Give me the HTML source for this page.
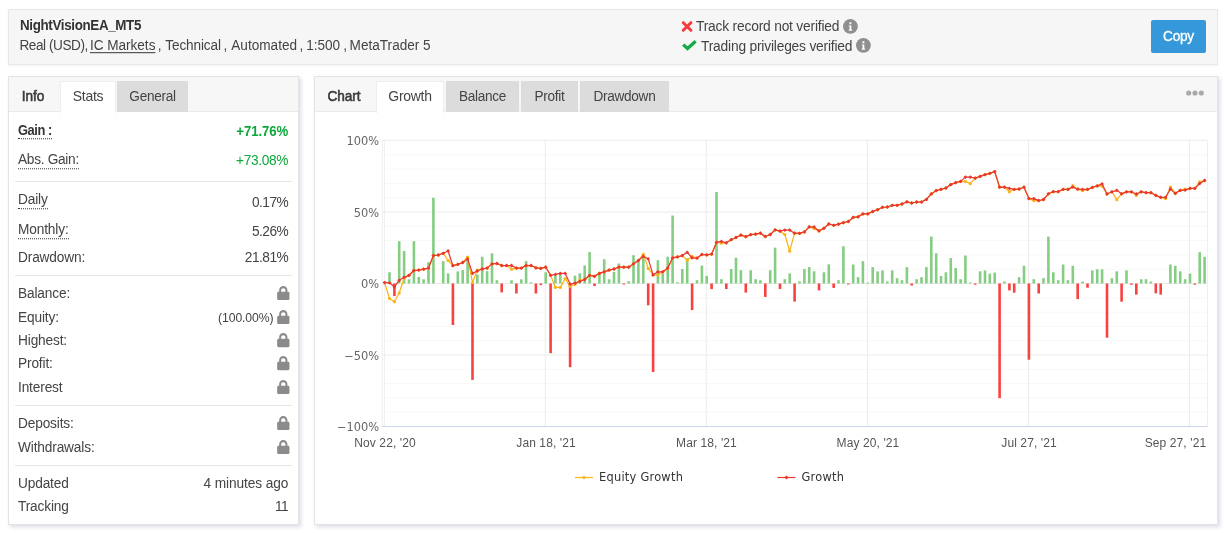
<!DOCTYPE html>
<html lang="en"><head><meta charset="utf-8"><title>NightVisionEA_MT5</title>
<style>
*{box-sizing:border-box}
html,body{margin:0;padding:0;background:#fff}
body{will-change:transform;width:1226px;height:533px;position:relative;overflow:hidden;font-family:"Liberation Sans",Arial,sans-serif;font-size:14px;color:#444}
.abs{position:absolute}
.hdr{position:absolute;left:8px;top:9px;width:1210px;height:56px;background:#f6f6f6;border:1px solid #e8e8e8;box-shadow:0 1px 3px rgba(0,0,0,.05)}
.title{transform:scaleY(1.09);transform-origin:0 78%;position:absolute;left:20px;top:17.5px;font-weight:bold;font-size:13.4px;color:#333;line-height:16px;white-space:nowrap;letter-spacing:-0.35px}
.sub span{position:absolute;top:0;transform:scaleY(1.08);transform-origin:0 78%}
.sub{position:absolute;left:0;top:37.5px;font-size:13.6px;color:#444;line-height:16px;white-space:nowrap;letter-spacing:-0.21px}
.sub u{text-decoration:underline;text-underline-offset:2px}
.ver{transform:scaleY(1.06);transform-origin:0 78%;position:absolute;font-size:13.8px;line-height:16px;color:#444;white-space:nowrap;letter-spacing:-0.2px}
.info{position:absolute}
.btn b{font-weight:normal;display:inline-block;transform:scaleY(1.08);transform-origin:0 64%}
.btn{position:absolute;left:1151px;top:20px;width:55px;height:33px;background:#3498db;color:#fff;border-radius:2px;font-size:13.7px;line-height:33px;text-align:center;letter-spacing:-0.3px;-webkit-text-stroke:0.3px #fff}
.panel{position:absolute;background:#fff;border:1px solid #e4e4e4;box-shadow:1.5px 2px 4px rgba(110,110,160,.24)}
.tabs{position:absolute;left:0;top:0;right:0;height:35px;background:#f7f7f7;border-bottom:1px solid #eaeaea}
.tab{position:absolute;top:4px;height:31px;line-height:30px;font-size:13.6px;color:#444;text-align:center;letter-spacing:-0.3px;white-space:nowrap}
.tab.h{font-weight:normal;color:#3a3a3a;-webkit-text-stroke:0.55px #3a3a3a;line-height:32px;letter-spacing:-0.05px}
.tab b{font-weight:inherit;display:inline-block;transform:scaleY(1.08);transform-origin:0 64%}
.tab.a{line-height:29px;font-size:14px;background:#fff;border:1px solid #eeeeee;border-bottom:none;height:32px}
.tab.i{background:#dcdcdc;line-height:32px}
.row{position:absolute;left:10px;right:9px;height:20px;line-height:20px;font-size:13.7px;letter-spacing:-0.15px;white-space:nowrap}
.lbl{position:absolute;left:0;top:0;color:#444;transform:scaleY(1.07);transform-origin:0 73%}
.lbl.dot{border-bottom:1px dotted #333;line-height:17px;height:18px}
.val{position:absolute;right:1.8px;top:0;color:#444;letter-spacing:-0.5px;transform:scaleY(1.07);transform-origin:0 73%}
.val.ns{letter-spacing:-0.1px}
.val.dv{top:1.5px}
.val.lk{top:0;right:-0.2px;transform:none}
.b{font-weight:bold;color:#333;font-size:13.2px}
.lbl.b{font-size:12.9px;letter-spacing:-0.45px}
.lbl.b.dot{height:17px}
.g{color:#0da83a !important}
.ag{letter-spacing:-0.3px}
.sm{display:inline-block;transform:scaleY(1.07);transform-origin:0 73%;font-size:12.2px;margin-right:2.2px;letter-spacing:-0.1px;position:relative;top:0.3px}
.lock{vertical-align:-2.7px}
.sep{position:absolute;left:7px;right:7px;height:1px;background:#e6e6e6}
.chart{position:absolute;left:0;top:0}
.ax{font-size:12px;fill:#555;letter-spacing:0.1px;font-family:"Liberation Sans",Arial,sans-serif}
.yl{letter-spacing:0;font-size:11.4px;fill:#666;font-family:"DejaVu Sans","Liberation Sans",sans-serif}
.lg{font-size:11.4px;fill:#333;letter-spacing:0.25px;font-family:"DejaVu Sans","Liberation Sans",sans-serif}
.dots{position:absolute;left:1186px;top:89.8px}
</style></head><body>
<div class="hdr"></div>
<div class="title">NightVisionEA_MT5</div>
<div class="sub"><span style="left:19.5px;letter-spacing:-0.45px">Real (USD),</span><span style="left:89.9px;letter-spacing:-0.02px"><u>IC Markets</u></span><span style="left:157.8px;letter-spacing:0px">,</span><span style="left:165.3px;letter-spacing:-0.12px">Technical</span><span style="left:223.6px;letter-spacing:0px">,</span><span style="left:231.3px;letter-spacing:0px">Automated</span><span style="left:299.6px;letter-spacing:0px">,</span><span style="left:306.3px;letter-spacing:-0.05px">1:500</span><span style="left:343.2px;letter-spacing:0px">,</span><span style="left:349.6px;letter-spacing:0px">MetaTrader 5</span></div>
<svg class="abs" style="left:681px;top:20px" width="12" height="13" viewBox="0 0 12 13"><path d="M2.300 2.700L9.900 10.300M9.900 2.700L2.300 10.300" stroke="#f53d3d" stroke-width="3" stroke-linecap="round"/></svg>
<div class="ver" style="left:696px;top:19.300px">Track record not verified</div>
<div class="abs" style="left:843.400px;top:19px"><svg  viewBox="0 0 14 14" width="14.800" height="14.800"><circle cx="7" cy="7" r="7" fill="#8f8f8f"/><path d="M6.100 3.100h1.800v1.800H6.100zM5.500 6.100h2.400v3.900h.7v1H5.400v-1h.8V7.100h-.7z" fill="#fff"/></svg></div>
<svg class="abs" style="left:681px;top:39px" width="16" height="14" viewBox="0 0 16 14"><path d="M2.200 5.600L6.500 9.500L14.600 2.200" fill="none" stroke="#12ab48" stroke-width="3.200"/></svg>
<div class="ver" style="left:701px;top:38.800px">Trading privileges verified</div>
<div class="abs" style="left:856.200px;top:38px"><svg  viewBox="0 0 14 14" width="14.800" height="14.800"><circle cx="7" cy="7" r="7" fill="#8f8f8f"/><path d="M6.100 3.100h1.800v1.800H6.100zM5.500 6.100h2.400v3.900h.7v1H5.400v-1h.8V7.100h-.7z" fill="#fff"/></svg></div>
<div class="btn"><b>Copy</b></div>

<div class="panel" style="left:8px;top:76px;width:291px;height:449px">
 <div class="tabs">
  <div class="tab h" style="left:5px;width:38px"><b>Info</b></div>
  <div class="tab a" style="left:51px;width:56px"><b>Stats</b></div>
  <div class="tab i" style="left:108px;width:71px"><b>General</b></div>
 </div>
</div>
<div class="abs" style="left:8px;top:0;width:291px;height:533px">
<div class="row" style="top:121.7px"><span class="lbl dot b">Gain :</span><span class="val g b" style="top:0.2px;letter-spacing:-0.08px">+71.76%</span></div>
<div class="row" style="top:150.6px"><span class="lbl dot ag">Abs. Gain:</span><span class="val g" style="top:0.7px;letter-spacing:-0.32px">+73.08%</span></div>
<div class="row" style="top:191px"><span class="lbl dot ">Daily</span><span class="val " style="top:1.7px;">0.17%</span></div>
<div class="row" style="top:220.5px"><span class="lbl dot ">Monthly:</span><span class="val " style="top:1.2px;">5.26%</span></div>
<div class="row" style="top:247.5px"><span class="lbl  ">Drawdown:</span><span class="val " style="top:0px;">21.81%</span></div>
<div class="row" style="top:283.6px"><span class="lbl">Balance:</span><span class="val lk"><svg class="lock" viewBox="0 0 13 14" width="14.6" height="15.7"><path fill-rule="evenodd" d="M2.800 6V4.700C2.800 2.600 4.400 1 6.500 1s3.700 1.600 3.700 3.700V6h.500c.700 0 1.300.600 1.300 1.300v4.900c0 .700-.600 1.300-1.300 1.300H2.300c-.700 0-1.300-.600-1.300-1.300V7.300C1 6.600 1.600 6 2.300 6zM4.600 6h3.800V4.700c0-1.100-.800-1.900-1.900-1.900s-1.900.800-1.900 1.900z" fill="#8b8b8b"/></svg></span></div>
<div class="row" style="top:307.8px"><span class="lbl">Equity:</span><span class="val lk"><span class="sm">(100.00%)</span><svg class="lock" viewBox="0 0 13 14" width="14.6" height="15.7"><path fill-rule="evenodd" d="M2.800 6V4.700C2.800 2.600 4.400 1 6.500 1s3.700 1.600 3.700 3.700V6h.500c.700 0 1.300.600 1.300 1.300v4.900c0 .700-.600 1.300-1.300 1.300H2.300c-.700 0-1.300-.600-1.300-1.300V7.300C1 6.600 1.600 6 2.300 6zM4.600 6h3.800V4.700c0-1.100-.800-1.900-1.900-1.900s-1.900.800-1.900 1.900z" fill="#8b8b8b"/></svg></span></div>
<div class="row" style="top:331.2px"><span class="lbl">Highest:</span><span class="val lk"><svg class="lock" viewBox="0 0 13 14" width="14.6" height="15.7"><path fill-rule="evenodd" d="M2.800 6V4.700C2.800 2.600 4.400 1 6.500 1s3.700 1.600 3.700 3.700V6h.500c.700 0 1.300.600 1.300 1.300v4.900c0 .700-.600 1.300-1.300 1.300H2.300c-.700 0-1.300-.600-1.300-1.300V7.300C1 6.600 1.600 6 2.300 6zM4.600 6h3.800V4.700c0-1.100-.800-1.900-1.900-1.900s-1.900.800-1.900 1.900z" fill="#8b8b8b"/></svg></span></div>
<div class="row" style="top:354.4px"><span class="lbl">Profit:</span><span class="val lk"><svg class="lock" viewBox="0 0 13 14" width="14.6" height="15.7"><path fill-rule="evenodd" d="M2.800 6V4.700C2.800 2.600 4.400 1 6.500 1s3.700 1.600 3.700 3.700V6h.500c.700 0 1.300.600 1.300 1.300v4.900c0 .700-.600 1.300-1.300 1.300H2.300c-.700 0-1.300-.600-1.300-1.300V7.300C1 6.600 1.600 6 2.300 6zM4.600 6h3.800V4.700c0-1.100-.800-1.900-1.900-1.900s-1.900.800-1.900 1.900z" fill="#8b8b8b"/></svg></span></div>
<div class="row" style="top:377.7px"><span class="lbl">Interest</span><span class="val lk"><svg class="lock" viewBox="0 0 13 14" width="14.6" height="15.7"><path fill-rule="evenodd" d="M2.800 6V4.700C2.800 2.600 4.400 1 6.500 1s3.700 1.600 3.700 3.700V6h.500c.700 0 1.300.600 1.300 1.300v4.900c0 .700-.600 1.300-1.300 1.300H2.300c-.700 0-1.300-.600-1.300-1.300V7.300C1 6.600 1.600 6 2.300 6zM4.600 6h3.800V4.700c0-1.100-.800-1.900-1.900-1.900s-1.900.800-1.900 1.900z" fill="#8b8b8b"/></svg></span></div>
<div class="row" style="top:413.5px"><span class="lbl">Deposits:</span><span class="val lk"><svg class="lock" viewBox="0 0 13 14" width="14.6" height="15.7"><path fill-rule="evenodd" d="M2.800 6V4.700C2.800 2.600 4.400 1 6.500 1s3.700 1.600 3.700 3.700V6h.500c.700 0 1.300.600 1.300 1.300v4.900c0 .700-.600 1.300-1.300 1.300H2.300c-.700 0-1.300-.600-1.300-1.300V7.300C1 6.600 1.600 6 2.300 6zM4.600 6h3.800V4.700c0-1.100-.800-1.900-1.900-1.900s-1.900.800-1.900 1.900z" fill="#8b8b8b"/></svg></span></div>
<div class="row" style="top:437.5px"><span class="lbl">Withdrawals:</span><span class="val lk"><svg class="lock" viewBox="0 0 13 14" width="14.6" height="15.7"><path fill-rule="evenodd" d="M2.800 6V4.700C2.800 2.600 4.400 1 6.500 1s3.700 1.600 3.700 3.700V6h.500c.700 0 1.300.600 1.300 1.300v4.900c0 .700-.600 1.300-1.300 1.300H2.300c-.700 0-1.300-.600-1.300-1.300V7.300C1 6.600 1.600 6 2.300 6zM4.600 6h3.800V4.700c0-1.100-.800-1.900-1.900-1.900s-1.900.800-1.900 1.900z" fill="#8b8b8b"/></svg></span></div>
<div class="row" style="top:473.8px"><span class="lbl  ">Updated</span><span class="val " style="top:0px;letter-spacing:-0.1px">4 minutes ago</span></div>
<div class="row" style="top:496.8px"><span class="lbl  ">Tracking</span><span class="val " style="top:0px;">11</span></div>
<div class="sep" style="top:181px"></div>
<div class="sep" style="top:275px"></div>
<div class="sep" style="top:405px"></div>
<div class="sep" style="top:465px"></div>
</div>

<div class="panel" style="left:314px;top:76px;width:904px;height:449px">
 <div class="tabs">
  <div class="tab h" style="left:5px;width:48px"><b>Chart</b></div>
  <div class="tab a" style="left:61px;width:68px"><b>Growth</b></div>
  <div class="tab i" style="left:131px;width:73px"><b>Balance</b></div>
  <div class="tab i" style="left:206px;width:57px"><b>Profit</b></div>
  <div class="tab i" style="left:265px;width:89px"><b>Drawdown</b></div>
 </div>
</div>
<svg class="dots" width="18" height="6" viewBox="0 0 18 6"><circle cx="2.700" cy="3" r="2.600" fill="#aaa"/><circle cx="9" cy="3" r="2.600" fill="#aaa"/><circle cx="15.300" cy="3" r="2.600" fill="#aaa"/></svg>
<svg class="chart" width="1226" height="533" viewBox="0 0 1226 533">
<line x1="384.5" x2="1207.5" y1="154.8" y2="154.8" stroke="#f8f8f8" stroke-width="1"/>
<line x1="384.5" x2="1207.5" y1="169.1" y2="169.1" stroke="#f8f8f8" stroke-width="1"/>
<line x1="384.5" x2="1207.5" y1="183.4" y2="183.4" stroke="#f8f8f8" stroke-width="1"/>
<line x1="384.5" x2="1207.5" y1="197.7" y2="197.7" stroke="#f8f8f8" stroke-width="1"/>
<line x1="384.5" x2="1207.5" y1="226.3" y2="226.3" stroke="#f8f8f8" stroke-width="1"/>
<line x1="384.5" x2="1207.5" y1="240.6" y2="240.6" stroke="#f8f8f8" stroke-width="1"/>
<line x1="384.5" x2="1207.5" y1="254.9" y2="254.9" stroke="#f8f8f8" stroke-width="1"/>
<line x1="384.5" x2="1207.5" y1="269.2" y2="269.2" stroke="#f8f8f8" stroke-width="1"/>
<line x1="384.5" x2="1207.5" y1="297.8" y2="297.8" stroke="#f8f8f8" stroke-width="1"/>
<line x1="384.5" x2="1207.5" y1="312.1" y2="312.1" stroke="#f8f8f8" stroke-width="1"/>
<line x1="384.5" x2="1207.5" y1="326.4" y2="326.4" stroke="#f8f8f8" stroke-width="1"/>
<line x1="384.5" x2="1207.5" y1="340.7" y2="340.7" stroke="#f8f8f8" stroke-width="1"/>
<line x1="384.5" x2="1207.5" y1="369.3" y2="369.3" stroke="#f8f8f8" stroke-width="1"/>
<line x1="384.5" x2="1207.5" y1="383.6" y2="383.6" stroke="#f8f8f8" stroke-width="1"/>
<line x1="384.5" x2="1207.5" y1="397.9" y2="397.9" stroke="#f8f8f8" stroke-width="1"/>
<line x1="384.5" x2="1207.5" y1="412.2" y2="412.2" stroke="#f8f8f8" stroke-width="1"/>
<line x1="382.5" x2="1207.5" y1="140.2" y2="140.2" stroke="#ebebeb" stroke-width="1"/>
<line x1="382.5" x2="1207.5" y1="212.0" y2="212.0" stroke="#ebebeb" stroke-width="1"/>
<line x1="382.5" x2="1207.5" y1="283.5" y2="283.5" stroke="#ebebeb" stroke-width="1"/>
<line x1="382.5" x2="1207.5" y1="355.0" y2="355.0" stroke="#ebebeb" stroke-width="1"/>
<line x1="545.3" x2="545.3" y1="140.5" y2="426.5" stroke="#ececec" stroke-width="1"/>
<line x1="706.3" x2="706.3" y1="140.5" y2="426.5" stroke="#ececec" stroke-width="1"/>
<line x1="867.4" x2="867.4" y1="140.5" y2="426.5" stroke="#ececec" stroke-width="1"/>
<line x1="1028.5" x2="1028.5" y1="140.5" y2="426.5" stroke="#ececec" stroke-width="1"/>
<line x1="1189.5" x2="1189.5" y1="140.5" y2="426.5" stroke="#ececec" stroke-width="1"/>
<line x1="382.3" x2="382.3" y1="140.5" y2="426.5" stroke="#efefef" stroke-width="1"/>
<line x1="384.4" x2="384.4" y1="140.5" y2="426.5" stroke="#efefef" stroke-width="1"/>
<line x1="1207.5" x2="1207.5" y1="140.5" y2="426.5" stroke="#efefef" stroke-width="1"/>
<line x1="382" x2="1207.5" y1="426.5" y2="426.5" stroke="#ccd6eb" stroke-width="1"/>
<rect x="388.2" y="272.3" width="2.6" height="11.2" fill="#86cd84"/>
<rect x="393.1" y="283.5" width="2.6" height="12.5" fill="#f84242"/>
<rect x="397.9" y="241.2" width="2.6" height="42.3" fill="#86cd84"/>
<rect x="402.8" y="251.0" width="2.6" height="32.5" fill="#86cd84"/>
<rect x="407.7" y="279.3" width="2.6" height="4.2" fill="#86cd84"/>
<rect x="412.6" y="241.2" width="2.6" height="42.3" fill="#86cd84"/>
<rect x="417.5" y="277.0" width="2.6" height="6.5" fill="#86cd84"/>
<rect x="422.3" y="279.3" width="2.6" height="4.2" fill="#86cd84"/>
<rect x="427.2" y="262.2" width="2.6" height="21.3" fill="#86cd84"/>
<rect x="432.1" y="197.7" width="2.6" height="85.8" fill="#86cd84"/>
<rect x="441.9" y="261.1" width="2.6" height="22.4" fill="#86cd84"/>
<rect x="446.8" y="273.4" width="2.6" height="10.1" fill="#86cd84"/>
<rect x="451.6" y="283.5" width="2.6" height="41.5" fill="#f84242"/>
<rect x="456.5" y="271.4" width="2.6" height="12.1" fill="#86cd84"/>
<rect x="461.4" y="270.1" width="2.6" height="13.4" fill="#86cd84"/>
<rect x="466.3" y="256.5" width="2.6" height="27.0" fill="#86cd84"/>
<rect x="471.2" y="283.5" width="2.6" height="96.4" fill="#f84242"/>
<rect x="476.0" y="274.5" width="2.6" height="9.0" fill="#86cd84"/>
<rect x="480.9" y="256.7" width="2.6" height="26.8" fill="#86cd84"/>
<rect x="485.8" y="271.1" width="2.6" height="12.4" fill="#86cd84"/>
<rect x="490.7" y="253.3" width="2.6" height="30.2" fill="#86cd84"/>
<rect x="495.6" y="280.2" width="2.6" height="3.3" fill="#86cd84"/>
<rect x="500.4" y="283.5" width="2.6" height="8.9" fill="#f84242"/>
<rect x="510.2" y="280.3" width="2.6" height="3.2" fill="#86cd84"/>
<rect x="515.1" y="283.5" width="2.6" height="10.0" fill="#f84242"/>
<rect x="520.0" y="279.3" width="2.6" height="4.2" fill="#86cd84"/>
<rect x="524.8" y="261.1" width="2.6" height="22.4" fill="#86cd84"/>
<rect x="529.7" y="282.3" width="2.6" height="1.2" fill="#86cd84"/>
<rect x="534.6" y="283.5" width="2.6" height="10.0" fill="#f84242"/>
<rect x="539.5" y="283.5" width="2.6" height="1.6" fill="#f84242"/>
<rect x="544.4" y="272.3" width="2.6" height="11.2" fill="#86cd84"/>
<rect x="549.3" y="283.5" width="2.6" height="69.7" fill="#f84242"/>
<rect x="554.1" y="275.3" width="2.6" height="8.2" fill="#86cd84"/>
<rect x="559.0" y="273.4" width="2.6" height="10.1" fill="#86cd84"/>
<rect x="568.8" y="283.5" width="2.6" height="83.7" fill="#f84242"/>
<rect x="573.7" y="275.7" width="2.6" height="7.8" fill="#86cd84"/>
<rect x="578.5" y="273.4" width="2.6" height="10.1" fill="#86cd84"/>
<rect x="583.4" y="265.5" width="2.6" height="18.0" fill="#86cd84"/>
<rect x="588.3" y="252.1" width="2.6" height="31.4" fill="#86cd84"/>
<rect x="593.2" y="283.5" width="2.6" height="2.5" fill="#f84242"/>
<rect x="598.1" y="273.5" width="2.6" height="10.0" fill="#86cd84"/>
<rect x="602.9" y="259.2" width="2.6" height="24.3" fill="#86cd84"/>
<rect x="607.8" y="279.3" width="2.6" height="4.2" fill="#86cd84"/>
<rect x="612.7" y="272.0" width="2.6" height="11.5" fill="#86cd84"/>
<rect x="617.6" y="263.5" width="2.6" height="20.0" fill="#86cd84"/>
<rect x="622.5" y="283.5" width="2.6" height="1.0" fill="#f84242"/>
<rect x="627.4" y="281.2" width="2.6" height="2.3" fill="#86cd84"/>
<rect x="632.2" y="255.2" width="2.6" height="28.3" fill="#86cd84"/>
<rect x="637.1" y="260.2" width="2.6" height="23.3" fill="#86cd84"/>
<rect x="642.0" y="256.5" width="2.6" height="27.0" fill="#86cd84"/>
<rect x="646.9" y="283.5" width="2.6" height="21.8" fill="#f84242"/>
<rect x="651.8" y="283.5" width="2.6" height="88.5" fill="#f84242"/>
<rect x="656.6" y="260.2" width="2.6" height="23.3" fill="#86cd84"/>
<rect x="661.5" y="273.4" width="2.6" height="10.1" fill="#86cd84"/>
<rect x="666.4" y="256.7" width="2.6" height="26.8" fill="#86cd84"/>
<rect x="671.3" y="215.5" width="2.6" height="68.0" fill="#86cd84"/>
<rect x="676.2" y="282.2" width="2.6" height="1.3" fill="#86cd84"/>
<rect x="681.0" y="269.0" width="2.6" height="14.5" fill="#86cd84"/>
<rect x="685.9" y="258.3" width="2.6" height="25.2" fill="#86cd84"/>
<rect x="690.8" y="283.5" width="2.6" height="26.6" fill="#f84242"/>
<rect x="695.7" y="280.2" width="2.6" height="3.3" fill="#86cd84"/>
<rect x="700.6" y="265.6" width="2.6" height="17.9" fill="#86cd84"/>
<rect x="705.4" y="275.9" width="2.6" height="7.6" fill="#86cd84"/>
<rect x="710.3" y="283.5" width="2.6" height="5.6" fill="#f84242"/>
<rect x="715.2" y="192.0" width="2.6" height="91.5" fill="#86cd84"/>
<rect x="720.1" y="279.2" width="2.6" height="4.3" fill="#86cd84"/>
<rect x="725.0" y="283.5" width="2.6" height="5.6" fill="#f84242"/>
<rect x="729.9" y="269.0" width="2.6" height="14.5" fill="#86cd84"/>
<rect x="734.7" y="257.7" width="2.6" height="25.8" fill="#86cd84"/>
<rect x="739.6" y="270.2" width="2.6" height="13.3" fill="#86cd84"/>
<rect x="744.5" y="283.5" width="2.6" height="9.1" fill="#f84242"/>
<rect x="749.4" y="270.2" width="2.6" height="13.3" fill="#86cd84"/>
<rect x="754.3" y="279.2" width="2.6" height="4.3" fill="#86cd84"/>
<rect x="759.1" y="280.2" width="2.6" height="3.3" fill="#86cd84"/>
<rect x="764.0" y="283.5" width="2.6" height="13.4" fill="#f84242"/>
<rect x="768.9" y="270.2" width="2.6" height="13.3" fill="#86cd84"/>
<rect x="773.8" y="247.6" width="2.6" height="35.9" fill="#86cd84"/>
<rect x="778.7" y="283.5" width="2.6" height="5.6" fill="#f84242"/>
<rect x="783.5" y="279.2" width="2.6" height="4.3" fill="#86cd84"/>
<rect x="788.4" y="273.5" width="2.6" height="10.0" fill="#86cd84"/>
<rect x="793.3" y="283.5" width="2.6" height="18.1" fill="#f84242"/>
<rect x="798.2" y="281.4" width="2.6" height="2.1" fill="#86cd84"/>
<rect x="803.1" y="269.0" width="2.6" height="14.5" fill="#86cd84"/>
<rect x="807.9" y="267.1" width="2.6" height="16.4" fill="#86cd84"/>
<rect x="812.8" y="271.3" width="2.6" height="12.2" fill="#86cd84"/>
<rect x="817.7" y="283.5" width="2.6" height="6.9" fill="#f84242"/>
<rect x="822.6" y="272.3" width="2.6" height="11.2" fill="#86cd84"/>
<rect x="827.5" y="264.3" width="2.6" height="19.2" fill="#86cd84"/>
<rect x="832.4" y="283.5" width="2.6" height="4.4" fill="#f84242"/>
<rect x="837.2" y="280.2" width="2.6" height="3.3" fill="#86cd84"/>
<rect x="842.1" y="246.3" width="2.6" height="37.2" fill="#86cd84"/>
<rect x="847.0" y="283.5" width="2.6" height="1.0" fill="#f84242"/>
<rect x="851.9" y="264.5" width="2.6" height="19.0" fill="#86cd84"/>
<rect x="856.8" y="277.2" width="2.6" height="6.3" fill="#86cd84"/>
<rect x="861.6" y="261.2" width="2.6" height="22.3" fill="#86cd84"/>
<rect x="866.5" y="282.5" width="2.6" height="1.0" fill="#86cd84"/>
<rect x="871.4" y="267.1" width="2.6" height="16.4" fill="#86cd84"/>
<rect x="876.3" y="271.4" width="2.6" height="12.1" fill="#86cd84"/>
<rect x="881.2" y="270.4" width="2.6" height="13.1" fill="#86cd84"/>
<rect x="886.0" y="281.5" width="2.6" height="2.0" fill="#86cd84"/>
<rect x="890.9" y="270.4" width="2.6" height="13.1" fill="#86cd84"/>
<rect x="895.8" y="278.2" width="2.6" height="5.3" fill="#86cd84"/>
<rect x="900.7" y="280.2" width="2.6" height="3.3" fill="#86cd84"/>
<rect x="905.6" y="267.1" width="2.6" height="16.4" fill="#86cd84"/>
<rect x="910.4" y="283.5" width="2.6" height="2.0" fill="#f84242"/>
<rect x="915.3" y="279.2" width="2.6" height="4.3" fill="#86cd84"/>
<rect x="920.2" y="277.2" width="2.6" height="6.3" fill="#86cd84"/>
<rect x="925.1" y="267.1" width="2.6" height="16.4" fill="#86cd84"/>
<rect x="930.0" y="236.6" width="2.6" height="46.9" fill="#86cd84"/>
<rect x="934.9" y="253.3" width="2.6" height="30.2" fill="#86cd84"/>
<rect x="939.7" y="276.0" width="2.6" height="7.5" fill="#86cd84"/>
<rect x="944.6" y="272.3" width="2.6" height="11.2" fill="#86cd84"/>
<rect x="949.5" y="258.1" width="2.6" height="25.4" fill="#86cd84"/>
<rect x="954.4" y="268.1" width="2.6" height="15.4" fill="#86cd84"/>
<rect x="959.3" y="279.2" width="2.6" height="4.3" fill="#86cd84"/>
<rect x="964.1" y="255.5" width="2.6" height="28.0" fill="#86cd84"/>
<rect x="969.0" y="282.5" width="2.6" height="1.0" fill="#86cd84"/>
<rect x="973.9" y="283.5" width="2.6" height="1.2" fill="#f84242"/>
<rect x="978.8" y="271.3" width="2.6" height="12.2" fill="#86cd84"/>
<rect x="983.7" y="270.4" width="2.6" height="13.1" fill="#86cd84"/>
<rect x="988.5" y="273.6" width="2.6" height="9.9" fill="#86cd84"/>
<rect x="993.4" y="272.6" width="2.6" height="10.9" fill="#86cd84"/>
<rect x="998.3" y="283.5" width="2.6" height="114.7" fill="#f84242"/>
<rect x="1003.2" y="281.5" width="2.6" height="2.0" fill="#86cd84"/>
<rect x="1008.1" y="283.5" width="2.6" height="6.9" fill="#f84242"/>
<rect x="1012.9" y="283.5" width="2.6" height="9.2" fill="#f84242"/>
<rect x="1017.8" y="277.2" width="2.6" height="6.3" fill="#86cd84"/>
<rect x="1022.7" y="265.8" width="2.6" height="17.7" fill="#86cd84"/>
<rect x="1027.6" y="283.5" width="2.6" height="76.2" fill="#f84242"/>
<rect x="1032.5" y="279.2" width="2.6" height="4.3" fill="#86cd84"/>
<rect x="1037.4" y="283.5" width="2.6" height="10.0" fill="#f84242"/>
<rect x="1042.2" y="278.2" width="2.6" height="5.3" fill="#86cd84"/>
<rect x="1047.1" y="236.6" width="2.6" height="46.9" fill="#86cd84"/>
<rect x="1052.0" y="272.3" width="2.6" height="11.2" fill="#86cd84"/>
<rect x="1056.9" y="280.2" width="2.6" height="3.3" fill="#86cd84"/>
<rect x="1061.8" y="264.5" width="2.6" height="19.0" fill="#86cd84"/>
<rect x="1066.6" y="280.2" width="2.6" height="3.3" fill="#86cd84"/>
<rect x="1071.5" y="265.8" width="2.6" height="17.7" fill="#86cd84"/>
<rect x="1076.4" y="283.5" width="2.6" height="15.6" fill="#f84242"/>
<rect x="1081.3" y="281.5" width="2.6" height="2.0" fill="#86cd84"/>
<rect x="1086.2" y="283.5" width="2.6" height="4.2" fill="#f84242"/>
<rect x="1091.0" y="270.4" width="2.6" height="13.1" fill="#86cd84"/>
<rect x="1095.9" y="269.3" width="2.6" height="14.2" fill="#86cd84"/>
<rect x="1100.8" y="269.3" width="2.6" height="14.2" fill="#86cd84"/>
<rect x="1105.7" y="283.5" width="2.6" height="54.2" fill="#f84242"/>
<rect x="1110.6" y="278.2" width="2.6" height="5.3" fill="#86cd84"/>
<rect x="1115.5" y="271.3" width="2.6" height="12.2" fill="#86cd84"/>
<rect x="1120.3" y="283.5" width="2.6" height="18.2" fill="#f84242"/>
<rect x="1125.2" y="270.4" width="2.6" height="13.1" fill="#86cd84"/>
<rect x="1130.1" y="283.5" width="2.6" height="1.3" fill="#f84242"/>
<rect x="1135.0" y="283.5" width="2.6" height="11.1" fill="#f84242"/>
<rect x="1139.9" y="279.2" width="2.6" height="4.3" fill="#86cd84"/>
<rect x="1144.7" y="279.2" width="2.6" height="4.3" fill="#86cd84"/>
<rect x="1149.6" y="281.5" width="2.6" height="2.0" fill="#86cd84"/>
<rect x="1154.5" y="283.5" width="2.6" height="9.8" fill="#f84242"/>
<rect x="1159.4" y="283.5" width="2.6" height="11.1" fill="#f84242"/>
<rect x="1169.1" y="264.5" width="2.6" height="19.0" fill="#86cd84"/>
<rect x="1174.0" y="265.8" width="2.6" height="17.7" fill="#86cd84"/>
<rect x="1178.9" y="271.3" width="2.6" height="12.2" fill="#86cd84"/>
<rect x="1183.8" y="279.2" width="2.6" height="4.3" fill="#86cd84"/>
<rect x="1188.7" y="273.6" width="2.6" height="9.9" fill="#86cd84"/>
<rect x="1193.5" y="283.5" width="2.6" height="1.2" fill="#f84242"/>
<rect x="1198.4" y="252.2" width="2.6" height="31.3" fill="#86cd84"/>
<rect x="1203.3" y="256.8" width="2.6" height="26.7" fill="#86cd84"/>
<polyline points="384.6,282.6 389.5,298.5 394.4,301.7 399.2,293.0 404.1,278.3 409.0,275.3 413.9,270.5 418.8,270.1 423.6,269.2 428.5,268.1 433.4,255.6 438.3,255.0 443.2,253.3 448.1,260.5 452.9,265.7 457.8,264.4 462.7,262.5 467.6,257.0 472.5,282.6 477.3,270.0 482.2,269.0 487.1,268.1 492.0,263.9 496.9,263.5 501.7,265.5 506.6,265.5 511.5,269.2 516.4,268.1 521.3,268.1 526.1,265.5 531.0,265.5 535.9,267.8 540.8,268.4 545.7,267.2 550.6,275.3 555.4,287.4 560.3,287.4 565.2,278.6 570.1,286.5 575.0,284.5 579.8,280.2 584.7,279.5 589.6,275.3 594.5,276.3 599.4,273.4 604.2,271.8 609.1,270.1 614.0,269.0 618.9,267.1 623.8,267.2 628.7,267.2 633.5,263.8 638.4,260.5 643.3,254.3 648.2,268.4 653.1,274.9 657.9,275.0 662.8,271.8 667.7,268.8 672.6,257.9 677.5,256.9 682.3,255.6 687.2,260.2 692.1,256.3 697.0,258.1 701.9,254.5 706.7,254.9 711.6,254.2 716.5,242.4 721.4,243.2 726.3,242.8 731.2,239.7 736.0,237.5 740.9,235.1 745.8,236.7 750.7,234.7 755.6,234.2 760.4,233.2 765.3,236.5 770.2,234.5 775.1,229.9 780.0,231.2 784.8,234.5 789.7,251.2 794.6,233.2 799.5,233.4 804.4,231.9 809.2,226.9 814.1,228.6 819.0,230.9 823.9,228.3 828.8,224.0 833.7,225.3 838.5,224.2 843.4,222.7 848.3,221.5 853.2,217.4 858.1,216.8 862.9,213.9 867.8,213.9 872.7,211.5 877.6,209.7 882.5,207.3 887.3,207.0 892.2,205.3 897.1,205.3 902.0,204.0 906.9,201.8 911.7,203.0 916.6,202.0 921.5,202.0 926.4,199.4 931.3,193.9 936.2,190.6 941.0,189.3 945.9,188.0 950.8,184.6 955.7,182.7 960.6,181.4 965.4,181.4 970.3,183.7 975.2,178.1 980.1,176.4 985.0,174.7 989.8,173.4 994.7,171.6 999.6,187.2 1004.5,187.2 1009.4,191.8 1014.2,189.4 1019.1,189.0 1024.0,187.2 1028.9,198.6 1033.8,200.6 1038.7,200.6 1043.5,199.5 1048.4,193.8 1053.3,191.7 1058.2,191.7 1063.1,189.4 1067.9,189.4 1072.8,185.7 1077.7,189.2 1082.6,190.7 1087.5,189.4 1092.3,187.5 1097.2,185.9 1102.1,186.1 1107.0,194.0 1111.9,191.8 1116.8,199.7 1121.6,193.8 1126.5,191.8 1131.4,191.8 1136.3,195.3 1141.2,191.8 1146.0,192.7 1150.9,192.7 1155.8,195.3 1160.7,197.3 1165.6,198.6 1170.4,187.1 1175.3,193.4 1180.2,190.3 1185.1,189.0 1190.0,188.4 1194.8,188.4 1199.7,181.9 1204.6,180.5" fill="none" stroke="#fbb416" stroke-width="1.25" stroke-linejoin="round"/>
<circle cx="384.6" cy="282.6" r="1.6" fill="#fbb416"/>
<circle cx="389.5" cy="298.5" r="1.6" fill="#fbb416"/>
<circle cx="394.4" cy="301.7" r="1.6" fill="#fbb416"/>
<circle cx="399.2" cy="293.0" r="1.6" fill="#fbb416"/>
<circle cx="404.1" cy="278.3" r="1.6" fill="#fbb416"/>
<circle cx="409.0" cy="275.3" r="1.6" fill="#fbb416"/>
<circle cx="413.9" cy="270.5" r="1.6" fill="#fbb416"/>
<circle cx="418.8" cy="270.1" r="1.6" fill="#fbb416"/>
<circle cx="423.6" cy="269.2" r="1.6" fill="#fbb416"/>
<circle cx="428.5" cy="268.1" r="1.6" fill="#fbb416"/>
<circle cx="433.4" cy="255.6" r="1.6" fill="#fbb416"/>
<circle cx="438.3" cy="255.0" r="1.6" fill="#fbb416"/>
<circle cx="443.2" cy="253.3" r="1.6" fill="#fbb416"/>
<circle cx="448.1" cy="260.5" r="1.6" fill="#fbb416"/>
<circle cx="452.9" cy="265.7" r="1.6" fill="#fbb416"/>
<circle cx="457.8" cy="264.4" r="1.6" fill="#fbb416"/>
<circle cx="462.7" cy="262.5" r="1.6" fill="#fbb416"/>
<circle cx="467.6" cy="257.0" r="1.6" fill="#fbb416"/>
<circle cx="472.5" cy="282.6" r="1.6" fill="#fbb416"/>
<circle cx="477.3" cy="270.0" r="1.6" fill="#fbb416"/>
<circle cx="482.2" cy="269.0" r="1.6" fill="#fbb416"/>
<circle cx="487.1" cy="268.1" r="1.6" fill="#fbb416"/>
<circle cx="492.0" cy="263.9" r="1.6" fill="#fbb416"/>
<circle cx="496.9" cy="263.5" r="1.6" fill="#fbb416"/>
<circle cx="501.7" cy="265.5" r="1.6" fill="#fbb416"/>
<circle cx="506.6" cy="265.5" r="1.6" fill="#fbb416"/>
<circle cx="511.5" cy="269.2" r="1.6" fill="#fbb416"/>
<circle cx="516.4" cy="268.1" r="1.6" fill="#fbb416"/>
<circle cx="521.3" cy="268.1" r="1.6" fill="#fbb416"/>
<circle cx="526.1" cy="265.5" r="1.6" fill="#fbb416"/>
<circle cx="531.0" cy="265.5" r="1.6" fill="#fbb416"/>
<circle cx="535.9" cy="267.8" r="1.6" fill="#fbb416"/>
<circle cx="540.8" cy="268.4" r="1.6" fill="#fbb416"/>
<circle cx="545.7" cy="267.2" r="1.6" fill="#fbb416"/>
<circle cx="550.6" cy="275.3" r="1.6" fill="#fbb416"/>
<circle cx="555.4" cy="287.4" r="1.6" fill="#fbb416"/>
<circle cx="560.3" cy="287.4" r="1.6" fill="#fbb416"/>
<circle cx="565.2" cy="278.6" r="1.6" fill="#fbb416"/>
<circle cx="570.1" cy="286.5" r="1.6" fill="#fbb416"/>
<circle cx="575.0" cy="284.5" r="1.6" fill="#fbb416"/>
<circle cx="579.8" cy="280.2" r="1.6" fill="#fbb416"/>
<circle cx="584.7" cy="279.5" r="1.6" fill="#fbb416"/>
<circle cx="589.6" cy="275.3" r="1.6" fill="#fbb416"/>
<circle cx="594.5" cy="276.3" r="1.6" fill="#fbb416"/>
<circle cx="599.4" cy="273.4" r="1.6" fill="#fbb416"/>
<circle cx="604.2" cy="271.8" r="1.6" fill="#fbb416"/>
<circle cx="609.1" cy="270.1" r="1.6" fill="#fbb416"/>
<circle cx="614.0" cy="269.0" r="1.6" fill="#fbb416"/>
<circle cx="618.9" cy="267.1" r="1.6" fill="#fbb416"/>
<circle cx="623.8" cy="267.2" r="1.6" fill="#fbb416"/>
<circle cx="628.7" cy="267.2" r="1.6" fill="#fbb416"/>
<circle cx="633.5" cy="263.8" r="1.6" fill="#fbb416"/>
<circle cx="638.4" cy="260.5" r="1.6" fill="#fbb416"/>
<circle cx="643.3" cy="254.3" r="1.6" fill="#fbb416"/>
<circle cx="648.2" cy="268.4" r="1.6" fill="#fbb416"/>
<circle cx="653.1" cy="274.9" r="1.6" fill="#fbb416"/>
<circle cx="657.9" cy="275.0" r="1.6" fill="#fbb416"/>
<circle cx="662.8" cy="271.8" r="1.6" fill="#fbb416"/>
<circle cx="667.7" cy="268.8" r="1.6" fill="#fbb416"/>
<circle cx="672.6" cy="257.9" r="1.6" fill="#fbb416"/>
<circle cx="677.5" cy="256.9" r="1.6" fill="#fbb416"/>
<circle cx="682.3" cy="255.6" r="1.6" fill="#fbb416"/>
<circle cx="687.2" cy="260.2" r="1.6" fill="#fbb416"/>
<circle cx="692.1" cy="256.3" r="1.6" fill="#fbb416"/>
<circle cx="697.0" cy="258.1" r="1.6" fill="#fbb416"/>
<circle cx="701.9" cy="254.5" r="1.6" fill="#fbb416"/>
<circle cx="706.7" cy="254.9" r="1.6" fill="#fbb416"/>
<circle cx="711.6" cy="254.2" r="1.6" fill="#fbb416"/>
<circle cx="716.5" cy="242.4" r="1.6" fill="#fbb416"/>
<circle cx="721.4" cy="243.2" r="1.6" fill="#fbb416"/>
<circle cx="726.3" cy="242.8" r="1.6" fill="#fbb416"/>
<circle cx="731.2" cy="239.7" r="1.6" fill="#fbb416"/>
<circle cx="736.0" cy="237.5" r="1.6" fill="#fbb416"/>
<circle cx="740.9" cy="235.1" r="1.6" fill="#fbb416"/>
<circle cx="745.8" cy="236.7" r="1.6" fill="#fbb416"/>
<circle cx="750.7" cy="234.7" r="1.6" fill="#fbb416"/>
<circle cx="755.6" cy="234.2" r="1.6" fill="#fbb416"/>
<circle cx="760.4" cy="233.2" r="1.6" fill="#fbb416"/>
<circle cx="765.3" cy="236.5" r="1.6" fill="#fbb416"/>
<circle cx="770.2" cy="234.5" r="1.6" fill="#fbb416"/>
<circle cx="775.1" cy="229.9" r="1.6" fill="#fbb416"/>
<circle cx="780.0" cy="231.2" r="1.6" fill="#fbb416"/>
<circle cx="784.8" cy="234.5" r="1.6" fill="#fbb416"/>
<circle cx="789.7" cy="251.2" r="1.6" fill="#fbb416"/>
<circle cx="794.6" cy="233.2" r="1.6" fill="#fbb416"/>
<circle cx="799.5" cy="233.4" r="1.6" fill="#fbb416"/>
<circle cx="804.4" cy="231.9" r="1.6" fill="#fbb416"/>
<circle cx="809.2" cy="226.9" r="1.6" fill="#fbb416"/>
<circle cx="814.1" cy="228.6" r="1.6" fill="#fbb416"/>
<circle cx="819.0" cy="230.9" r="1.6" fill="#fbb416"/>
<circle cx="823.9" cy="228.3" r="1.6" fill="#fbb416"/>
<circle cx="828.8" cy="224.0" r="1.6" fill="#fbb416"/>
<circle cx="833.7" cy="225.3" r="1.6" fill="#fbb416"/>
<circle cx="838.5" cy="224.2" r="1.6" fill="#fbb416"/>
<circle cx="843.4" cy="222.7" r="1.6" fill="#fbb416"/>
<circle cx="848.3" cy="221.5" r="1.6" fill="#fbb416"/>
<circle cx="853.2" cy="217.4" r="1.6" fill="#fbb416"/>
<circle cx="858.1" cy="216.8" r="1.6" fill="#fbb416"/>
<circle cx="862.9" cy="213.9" r="1.6" fill="#fbb416"/>
<circle cx="867.8" cy="213.9" r="1.6" fill="#fbb416"/>
<circle cx="872.7" cy="211.5" r="1.6" fill="#fbb416"/>
<circle cx="877.6" cy="209.7" r="1.6" fill="#fbb416"/>
<circle cx="882.5" cy="207.3" r="1.6" fill="#fbb416"/>
<circle cx="887.3" cy="207.0" r="1.6" fill="#fbb416"/>
<circle cx="892.2" cy="205.3" r="1.6" fill="#fbb416"/>
<circle cx="897.1" cy="205.3" r="1.6" fill="#fbb416"/>
<circle cx="902.0" cy="204.0" r="1.6" fill="#fbb416"/>
<circle cx="906.9" cy="201.8" r="1.6" fill="#fbb416"/>
<circle cx="911.7" cy="203.0" r="1.6" fill="#fbb416"/>
<circle cx="916.6" cy="202.0" r="1.6" fill="#fbb416"/>
<circle cx="921.5" cy="202.0" r="1.6" fill="#fbb416"/>
<circle cx="926.4" cy="199.4" r="1.6" fill="#fbb416"/>
<circle cx="931.3" cy="193.9" r="1.6" fill="#fbb416"/>
<circle cx="936.2" cy="190.6" r="1.6" fill="#fbb416"/>
<circle cx="941.0" cy="189.3" r="1.6" fill="#fbb416"/>
<circle cx="945.9" cy="188.0" r="1.6" fill="#fbb416"/>
<circle cx="950.8" cy="184.6" r="1.6" fill="#fbb416"/>
<circle cx="955.7" cy="182.7" r="1.6" fill="#fbb416"/>
<circle cx="960.6" cy="181.4" r="1.6" fill="#fbb416"/>
<circle cx="965.4" cy="181.4" r="1.6" fill="#fbb416"/>
<circle cx="970.3" cy="183.7" r="1.6" fill="#fbb416"/>
<circle cx="975.2" cy="178.1" r="1.6" fill="#fbb416"/>
<circle cx="980.1" cy="176.4" r="1.6" fill="#fbb416"/>
<circle cx="985.0" cy="174.7" r="1.6" fill="#fbb416"/>
<circle cx="989.8" cy="173.4" r="1.6" fill="#fbb416"/>
<circle cx="994.7" cy="171.6" r="1.6" fill="#fbb416"/>
<circle cx="999.6" cy="187.2" r="1.6" fill="#fbb416"/>
<circle cx="1004.5" cy="187.2" r="1.6" fill="#fbb416"/>
<circle cx="1009.4" cy="191.8" r="1.6" fill="#fbb416"/>
<circle cx="1014.2" cy="189.4" r="1.6" fill="#fbb416"/>
<circle cx="1019.1" cy="189.0" r="1.6" fill="#fbb416"/>
<circle cx="1024.0" cy="187.2" r="1.6" fill="#fbb416"/>
<circle cx="1028.9" cy="198.6" r="1.6" fill="#fbb416"/>
<circle cx="1033.8" cy="200.6" r="1.6" fill="#fbb416"/>
<circle cx="1038.7" cy="200.6" r="1.6" fill="#fbb416"/>
<circle cx="1043.5" cy="199.5" r="1.6" fill="#fbb416"/>
<circle cx="1048.4" cy="193.8" r="1.6" fill="#fbb416"/>
<circle cx="1053.3" cy="191.7" r="1.6" fill="#fbb416"/>
<circle cx="1058.2" cy="191.7" r="1.6" fill="#fbb416"/>
<circle cx="1063.1" cy="189.4" r="1.6" fill="#fbb416"/>
<circle cx="1067.9" cy="189.4" r="1.6" fill="#fbb416"/>
<circle cx="1072.8" cy="185.7" r="1.6" fill="#fbb416"/>
<circle cx="1077.7" cy="189.2" r="1.6" fill="#fbb416"/>
<circle cx="1082.6" cy="190.7" r="1.6" fill="#fbb416"/>
<circle cx="1087.5" cy="189.4" r="1.6" fill="#fbb416"/>
<circle cx="1092.3" cy="187.5" r="1.6" fill="#fbb416"/>
<circle cx="1097.2" cy="185.9" r="1.6" fill="#fbb416"/>
<circle cx="1102.1" cy="186.1" r="1.6" fill="#fbb416"/>
<circle cx="1107.0" cy="194.0" r="1.6" fill="#fbb416"/>
<circle cx="1111.9" cy="191.8" r="1.6" fill="#fbb416"/>
<circle cx="1116.8" cy="199.7" r="1.6" fill="#fbb416"/>
<circle cx="1121.6" cy="193.8" r="1.6" fill="#fbb416"/>
<circle cx="1126.5" cy="191.8" r="1.6" fill="#fbb416"/>
<circle cx="1131.4" cy="191.8" r="1.6" fill="#fbb416"/>
<circle cx="1136.3" cy="195.3" r="1.6" fill="#fbb416"/>
<circle cx="1141.2" cy="191.8" r="1.6" fill="#fbb416"/>
<circle cx="1146.0" cy="192.7" r="1.6" fill="#fbb416"/>
<circle cx="1150.9" cy="192.7" r="1.6" fill="#fbb416"/>
<circle cx="1155.8" cy="195.3" r="1.6" fill="#fbb416"/>
<circle cx="1160.7" cy="197.3" r="1.6" fill="#fbb416"/>
<circle cx="1165.6" cy="198.6" r="1.6" fill="#fbb416"/>
<circle cx="1170.4" cy="187.1" r="1.6" fill="#fbb416"/>
<circle cx="1175.3" cy="193.4" r="1.6" fill="#fbb416"/>
<circle cx="1180.2" cy="190.3" r="1.6" fill="#fbb416"/>
<circle cx="1185.1" cy="189.0" r="1.6" fill="#fbb416"/>
<circle cx="1190.0" cy="188.4" r="1.6" fill="#fbb416"/>
<circle cx="1194.8" cy="188.4" r="1.6" fill="#fbb416"/>
<circle cx="1199.7" cy="181.9" r="1.6" fill="#fbb416"/>
<circle cx="1204.6" cy="180.5" r="1.6" fill="#fbb416"/>
<polyline points="384.6,282.6 389.5,282.8 394.4,286.8 399.2,280.3 404.1,277.3 409.0,275.3 413.9,270.5 418.8,270.1 423.6,269.2 428.5,268.1 433.4,255.6 438.3,255.0 443.2,253.3 448.1,251.0 452.9,265.7 457.8,264.4 462.7,262.5 467.6,258.9 472.5,273.4 477.3,271.0 482.2,269.0 487.1,268.1 492.0,263.9 496.9,263.5 501.7,265.5 506.6,265.5 511.5,265.5 516.4,268.1 521.3,268.1 526.1,265.5 531.0,265.5 535.9,267.8 540.8,268.4 545.7,267.2 550.6,275.3 555.4,274.4 560.3,273.4 565.2,273.4 570.1,284.1 575.0,283.2 579.8,281.5 584.7,279.5 589.6,275.3 594.5,276.3 599.4,273.4 604.2,271.8 609.1,270.1 614.0,269.0 618.9,267.1 623.8,267.2 628.7,267.2 633.5,263.8 638.4,260.5 643.3,256.3 648.2,258.9 653.1,274.9 657.9,271.8 662.8,271.8 667.7,268.1 672.6,257.9 677.5,256.9 682.3,255.6 687.2,252.3 692.1,257.9 697.0,258.1 701.9,254.5 706.7,254.9 711.6,254.2 716.5,242.4 721.4,241.4 726.3,242.8 731.2,239.7 736.0,237.5 740.9,235.1 745.8,236.7 750.7,234.7 755.6,234.2 760.4,233.2 765.3,236.5 770.2,234.5 775.1,229.9 780.0,231.2 784.8,230.1 789.7,230.1 794.6,233.2 799.5,233.4 804.4,231.9 809.2,226.9 814.1,226.9 819.0,230.9 823.9,228.3 828.8,224.0 833.7,225.3 838.5,224.2 843.4,222.7 848.3,221.5 853.2,217.4 858.1,216.8 862.9,213.9 867.8,213.9 872.7,211.5 877.6,209.7 882.5,207.3 887.3,207.0 892.2,205.3 897.1,205.3 902.0,204.0 906.9,201.8 911.7,203.0 916.6,202.0 921.5,202.0 926.4,199.4 931.3,193.9 936.2,190.6 941.0,189.3 945.9,188.0 950.8,184.6 955.7,182.7 960.6,181.4 965.4,177.1 970.3,177.1 975.2,178.1 980.1,176.4 985.0,174.7 989.8,173.4 994.7,171.6 999.6,187.2 1004.5,187.2 1009.4,188.4 1014.2,189.4 1019.1,189.0 1024.0,187.2 1028.9,198.6 1033.8,198.6 1038.7,200.6 1043.5,199.5 1048.4,193.8 1053.3,191.7 1058.2,191.7 1063.1,189.4 1067.9,189.4 1072.8,187.1 1077.7,189.2 1082.6,189.4 1087.5,189.4 1092.3,187.5 1097.2,185.9 1102.1,183.9 1107.0,194.0 1111.9,191.8 1116.8,190.3 1121.6,193.8 1126.5,191.8 1131.4,191.8 1136.3,194.0 1141.2,191.8 1146.0,192.7 1150.9,192.7 1155.8,195.3 1160.7,197.3 1165.6,197.3 1170.4,189.0 1175.3,193.4 1180.2,190.3 1185.1,190.1 1190.0,188.4 1194.8,188.4 1199.7,183.5 1204.6,180.5" fill="none" stroke="#e8382f" stroke-width="1.25" stroke-linejoin="round"/>
<path d="M384.6 280.7L386.5 282.6L384.6 284.5L382.7 282.6Z" fill="#e8382f"/>
<path d="M389.5 280.9L391.4 282.8L389.5 284.7L387.6 282.8Z" fill="#e8382f"/>
<path d="M394.4 284.9L396.3 286.8L394.4 288.7L392.5 286.8Z" fill="#e8382f"/>
<path d="M399.2 278.4L401.1 280.3L399.2 282.2L397.3 280.3Z" fill="#e8382f"/>
<path d="M404.1 275.4L406.0 277.3L404.1 279.2L402.2 277.3Z" fill="#e8382f"/>
<path d="M409.0 273.4L410.9 275.3L409.0 277.2L407.1 275.3Z" fill="#e8382f"/>
<path d="M413.9 268.6L415.8 270.5L413.9 272.4L412.0 270.5Z" fill="#e8382f"/>
<path d="M418.8 268.2L420.7 270.1L418.8 272.0L416.9 270.1Z" fill="#e8382f"/>
<path d="M423.6 267.3L425.5 269.2L423.6 271.1L421.7 269.2Z" fill="#e8382f"/>
<path d="M428.5 266.2L430.4 268.1L428.5 270.0L426.6 268.1Z" fill="#e8382f"/>
<path d="M433.4 253.7L435.3 255.6L433.4 257.5L431.5 255.6Z" fill="#e8382f"/>
<path d="M438.3 253.1L440.2 255.0L438.3 256.9L436.4 255.0Z" fill="#e8382f"/>
<path d="M443.2 251.4L445.1 253.3L443.2 255.2L441.3 253.3Z" fill="#e8382f"/>
<path d="M448.1 249.1L450.0 251.0L448.1 252.9L446.2 251.0Z" fill="#e8382f"/>
<path d="M452.9 263.8L454.8 265.7L452.9 267.6L451.0 265.7Z" fill="#e8382f"/>
<path d="M457.8 262.5L459.7 264.4L457.8 266.3L455.9 264.4Z" fill="#e8382f"/>
<path d="M462.7 260.6L464.6 262.5L462.7 264.4L460.8 262.5Z" fill="#e8382f"/>
<path d="M467.6 257.0L469.5 258.9L467.6 260.8L465.7 258.9Z" fill="#e8382f"/>
<path d="M472.5 271.5L474.4 273.4L472.5 275.3L470.6 273.4Z" fill="#e8382f"/>
<path d="M477.3 269.1L479.2 271.0L477.3 272.9L475.4 271.0Z" fill="#e8382f"/>
<path d="M482.2 267.1L484.1 269.0L482.2 270.9L480.3 269.0Z" fill="#e8382f"/>
<path d="M487.1 266.2L489.0 268.1L487.1 270.0L485.2 268.1Z" fill="#e8382f"/>
<path d="M492.0 262.0L493.9 263.9L492.0 265.8L490.1 263.9Z" fill="#e8382f"/>
<path d="M496.9 261.6L498.8 263.5L496.9 265.4L495.0 263.5Z" fill="#e8382f"/>
<path d="M501.7 263.6L503.6 265.5L501.7 267.4L499.8 265.5Z" fill="#e8382f"/>
<path d="M506.6 263.6L508.5 265.5L506.6 267.4L504.7 265.5Z" fill="#e8382f"/>
<path d="M511.5 263.6L513.4 265.5L511.5 267.4L509.6 265.5Z" fill="#e8382f"/>
<path d="M516.4 266.2L518.3 268.1L516.4 270.0L514.5 268.1Z" fill="#e8382f"/>
<path d="M521.3 266.2L523.2 268.1L521.3 270.0L519.4 268.1Z" fill="#e8382f"/>
<path d="M526.1 263.6L528.0 265.5L526.1 267.4L524.2 265.5Z" fill="#e8382f"/>
<path d="M531.0 263.6L532.9 265.5L531.0 267.4L529.1 265.5Z" fill="#e8382f"/>
<path d="M535.9 265.9L537.8 267.8L535.9 269.7L534.0 267.8Z" fill="#e8382f"/>
<path d="M540.8 266.5L542.7 268.4L540.8 270.3L538.9 268.4Z" fill="#e8382f"/>
<path d="M545.7 265.3L547.6 267.2L545.7 269.1L543.8 267.2Z" fill="#e8382f"/>
<path d="M550.6 273.4L552.5 275.3L550.6 277.2L548.7 275.3Z" fill="#e8382f"/>
<path d="M555.4 272.5L557.3 274.4L555.4 276.3L553.5 274.4Z" fill="#e8382f"/>
<path d="M560.3 271.5L562.2 273.4L560.3 275.3L558.4 273.4Z" fill="#e8382f"/>
<path d="M565.2 271.5L567.1 273.4L565.2 275.3L563.3 273.4Z" fill="#e8382f"/>
<path d="M570.1 282.2L572.0 284.1L570.1 286.0L568.2 284.1Z" fill="#e8382f"/>
<path d="M575.0 281.3L576.9 283.2L575.0 285.1L573.1 283.2Z" fill="#e8382f"/>
<path d="M579.8 279.6L581.7 281.5L579.8 283.4L577.9 281.5Z" fill="#e8382f"/>
<path d="M584.7 277.6L586.6 279.5L584.7 281.4L582.8 279.5Z" fill="#e8382f"/>
<path d="M589.6 273.4L591.5 275.3L589.6 277.2L587.7 275.3Z" fill="#e8382f"/>
<path d="M594.5 274.4L596.4 276.3L594.5 278.2L592.6 276.3Z" fill="#e8382f"/>
<path d="M599.4 271.5L601.3 273.4L599.4 275.3L597.5 273.4Z" fill="#e8382f"/>
<path d="M604.2 269.9L606.1 271.8L604.2 273.7L602.3 271.8Z" fill="#e8382f"/>
<path d="M609.1 268.2L611.0 270.1L609.1 272.0L607.2 270.1Z" fill="#e8382f"/>
<path d="M614.0 267.1L615.9 269.0L614.0 270.9L612.1 269.0Z" fill="#e8382f"/>
<path d="M618.9 265.2L620.8 267.1L618.9 269.0L617.0 267.1Z" fill="#e8382f"/>
<path d="M623.8 265.3L625.7 267.2L623.8 269.1L621.9 267.2Z" fill="#e8382f"/>
<path d="M628.7 265.3L630.6 267.2L628.7 269.1L626.8 267.2Z" fill="#e8382f"/>
<path d="M633.5 261.9L635.4 263.8L633.5 265.7L631.6 263.8Z" fill="#e8382f"/>
<path d="M638.4 258.6L640.3 260.5L638.4 262.4L636.5 260.5Z" fill="#e8382f"/>
<path d="M643.3 254.4L645.2 256.3L643.3 258.2L641.4 256.3Z" fill="#e8382f"/>
<path d="M648.2 257.0L650.1 258.9L648.2 260.8L646.3 258.9Z" fill="#e8382f"/>
<path d="M653.1 273.0L655.0 274.9L653.1 276.8L651.2 274.9Z" fill="#e8382f"/>
<path d="M657.9 269.9L659.8 271.8L657.9 273.7L656.0 271.8Z" fill="#e8382f"/>
<path d="M662.8 269.9L664.7 271.8L662.8 273.7L660.9 271.8Z" fill="#e8382f"/>
<path d="M667.7 266.2L669.6 268.1L667.7 270.0L665.8 268.1Z" fill="#e8382f"/>
<path d="M672.6 256.0L674.5 257.9L672.6 259.8L670.7 257.9Z" fill="#e8382f"/>
<path d="M677.5 255.0L679.4 256.9L677.5 258.8L675.6 256.9Z" fill="#e8382f"/>
<path d="M682.3 253.7L684.2 255.6L682.3 257.5L680.4 255.6Z" fill="#e8382f"/>
<path d="M687.2 250.4L689.1 252.3L687.2 254.2L685.3 252.3Z" fill="#e8382f"/>
<path d="M692.1 256.0L694.0 257.9L692.1 259.8L690.2 257.9Z" fill="#e8382f"/>
<path d="M697.0 256.2L698.9 258.1L697.0 260.0L695.1 258.1Z" fill="#e8382f"/>
<path d="M701.9 252.6L703.8 254.5L701.9 256.4L700.0 254.5Z" fill="#e8382f"/>
<path d="M706.7 253.0L708.6 254.9L706.7 256.8L704.8 254.9Z" fill="#e8382f"/>
<path d="M711.6 252.3L713.5 254.2L711.6 256.1L709.7 254.2Z" fill="#e8382f"/>
<path d="M716.5 240.5L718.4 242.4L716.5 244.3L714.6 242.4Z" fill="#e8382f"/>
<path d="M721.4 239.5L723.3 241.4L721.4 243.3L719.5 241.4Z" fill="#e8382f"/>
<path d="M726.3 240.9L728.2 242.8L726.3 244.7L724.4 242.8Z" fill="#e8382f"/>
<path d="M731.2 237.8L733.1 239.7L731.2 241.6L729.3 239.7Z" fill="#e8382f"/>
<path d="M736.0 235.6L737.9 237.5L736.0 239.4L734.1 237.5Z" fill="#e8382f"/>
<path d="M740.9 233.2L742.8 235.1L740.9 237.0L739.0 235.1Z" fill="#e8382f"/>
<path d="M745.8 234.8L747.7 236.7L745.8 238.6L743.9 236.7Z" fill="#e8382f"/>
<path d="M750.7 232.8L752.6 234.7L750.7 236.6L748.8 234.7Z" fill="#e8382f"/>
<path d="M755.6 232.3L757.5 234.2L755.6 236.1L753.7 234.2Z" fill="#e8382f"/>
<path d="M760.4 231.3L762.3 233.2L760.4 235.1L758.5 233.2Z" fill="#e8382f"/>
<path d="M765.3 234.6L767.2 236.5L765.3 238.4L763.4 236.5Z" fill="#e8382f"/>
<path d="M770.2 232.6L772.1 234.5L770.2 236.4L768.3 234.5Z" fill="#e8382f"/>
<path d="M775.1 228.0L777.0 229.9L775.1 231.8L773.2 229.9Z" fill="#e8382f"/>
<path d="M780.0 229.3L781.9 231.2L780.0 233.1L778.1 231.2Z" fill="#e8382f"/>
<path d="M784.8 228.2L786.7 230.1L784.8 232.0L782.9 230.1Z" fill="#e8382f"/>
<path d="M789.7 228.2L791.6 230.1L789.7 232.0L787.8 230.1Z" fill="#e8382f"/>
<path d="M794.6 231.3L796.5 233.2L794.6 235.1L792.7 233.2Z" fill="#e8382f"/>
<path d="M799.5 231.5L801.4 233.4L799.5 235.3L797.6 233.4Z" fill="#e8382f"/>
<path d="M804.4 230.0L806.3 231.9L804.4 233.8L802.5 231.9Z" fill="#e8382f"/>
<path d="M809.2 225.0L811.1 226.9L809.2 228.8L807.3 226.9Z" fill="#e8382f"/>
<path d="M814.1 225.0L816.0 226.9L814.1 228.8L812.2 226.9Z" fill="#e8382f"/>
<path d="M819.0 229.0L820.9 230.9L819.0 232.8L817.1 230.9Z" fill="#e8382f"/>
<path d="M823.9 226.4L825.8 228.3L823.9 230.2L822.0 228.3Z" fill="#e8382f"/>
<path d="M828.8 222.1L830.7 224.0L828.8 225.9L826.9 224.0Z" fill="#e8382f"/>
<path d="M833.7 223.4L835.6 225.3L833.7 227.2L831.8 225.3Z" fill="#e8382f"/>
<path d="M838.5 222.3L840.4 224.2L838.5 226.1L836.6 224.2Z" fill="#e8382f"/>
<path d="M843.4 220.8L845.3 222.7L843.4 224.6L841.5 222.7Z" fill="#e8382f"/>
<path d="M848.3 219.6L850.2 221.5L848.3 223.4L846.4 221.5Z" fill="#e8382f"/>
<path d="M853.2 215.5L855.1 217.4L853.2 219.3L851.3 217.4Z" fill="#e8382f"/>
<path d="M858.1 214.9L860.0 216.8L858.1 218.7L856.2 216.8Z" fill="#e8382f"/>
<path d="M862.9 212.0L864.8 213.9L862.9 215.8L861.0 213.9Z" fill="#e8382f"/>
<path d="M867.8 212.0L869.7 213.9L867.8 215.8L865.9 213.9Z" fill="#e8382f"/>
<path d="M872.7 209.6L874.6 211.5L872.7 213.4L870.8 211.5Z" fill="#e8382f"/>
<path d="M877.6 207.8L879.5 209.7L877.6 211.6L875.7 209.7Z" fill="#e8382f"/>
<path d="M882.5 205.4L884.4 207.3L882.5 209.2L880.6 207.3Z" fill="#e8382f"/>
<path d="M887.3 205.1L889.2 207.0L887.3 208.9L885.4 207.0Z" fill="#e8382f"/>
<path d="M892.2 203.4L894.1 205.3L892.2 207.2L890.3 205.3Z" fill="#e8382f"/>
<path d="M897.1 203.4L899.0 205.3L897.1 207.2L895.2 205.3Z" fill="#e8382f"/>
<path d="M902.0 202.1L903.9 204.0L902.0 205.9L900.1 204.0Z" fill="#e8382f"/>
<path d="M906.9 199.9L908.8 201.8L906.9 203.7L905.0 201.8Z" fill="#e8382f"/>
<path d="M911.7 201.1L913.6 203.0L911.7 204.9L909.8 203.0Z" fill="#e8382f"/>
<path d="M916.6 200.1L918.5 202.0L916.6 203.9L914.7 202.0Z" fill="#e8382f"/>
<path d="M921.5 200.1L923.4 202.0L921.5 203.9L919.6 202.0Z" fill="#e8382f"/>
<path d="M926.4 197.5L928.3 199.4L926.4 201.3L924.5 199.4Z" fill="#e8382f"/>
<path d="M931.3 192.0L933.2 193.9L931.3 195.8L929.4 193.9Z" fill="#e8382f"/>
<path d="M936.2 188.7L938.1 190.6L936.2 192.5L934.3 190.6Z" fill="#e8382f"/>
<path d="M941.0 187.4L942.9 189.3L941.0 191.2L939.1 189.3Z" fill="#e8382f"/>
<path d="M945.9 186.1L947.8 188.0L945.9 189.9L944.0 188.0Z" fill="#e8382f"/>
<path d="M950.8 182.7L952.7 184.6L950.8 186.5L948.9 184.6Z" fill="#e8382f"/>
<path d="M955.7 180.8L957.6 182.7L955.7 184.6L953.8 182.7Z" fill="#e8382f"/>
<path d="M960.6 179.5L962.5 181.4L960.6 183.3L958.7 181.4Z" fill="#e8382f"/>
<path d="M965.4 175.2L967.3 177.1L965.4 179.0L963.5 177.1Z" fill="#e8382f"/>
<path d="M970.3 175.2L972.2 177.1L970.3 179.0L968.4 177.1Z" fill="#e8382f"/>
<path d="M975.2 176.2L977.1 178.1L975.2 180.0L973.3 178.1Z" fill="#e8382f"/>
<path d="M980.1 174.5L982.0 176.4L980.1 178.3L978.2 176.4Z" fill="#e8382f"/>
<path d="M985.0 172.8L986.9 174.7L985.0 176.6L983.1 174.7Z" fill="#e8382f"/>
<path d="M989.8 171.5L991.7 173.4L989.8 175.3L987.9 173.4Z" fill="#e8382f"/>
<path d="M994.7 169.7L996.6 171.6L994.7 173.5L992.8 171.6Z" fill="#e8382f"/>
<path d="M999.6 185.3L1001.5 187.2L999.6 189.1L997.7 187.2Z" fill="#e8382f"/>
<path d="M1004.5 185.3L1006.4 187.2L1004.5 189.1L1002.6 187.2Z" fill="#e8382f"/>
<path d="M1009.4 186.5L1011.3 188.4L1009.4 190.3L1007.5 188.4Z" fill="#e8382f"/>
<path d="M1014.2 187.5L1016.1 189.4L1014.2 191.3L1012.3 189.4Z" fill="#e8382f"/>
<path d="M1019.1 187.1L1021.0 189.0L1019.1 190.9L1017.2 189.0Z" fill="#e8382f"/>
<path d="M1024.0 185.3L1025.9 187.2L1024.0 189.1L1022.1 187.2Z" fill="#e8382f"/>
<path d="M1028.9 196.7L1030.8 198.6L1028.9 200.5L1027.0 198.6Z" fill="#e8382f"/>
<path d="M1033.8 196.7L1035.7 198.6L1033.8 200.5L1031.9 198.6Z" fill="#e8382f"/>
<path d="M1038.7 198.7L1040.6 200.6L1038.7 202.5L1036.8 200.6Z" fill="#e8382f"/>
<path d="M1043.5 197.6L1045.4 199.5L1043.5 201.4L1041.6 199.5Z" fill="#e8382f"/>
<path d="M1048.4 191.9L1050.3 193.8L1048.4 195.7L1046.5 193.8Z" fill="#e8382f"/>
<path d="M1053.3 189.8L1055.2 191.7L1053.3 193.6L1051.4 191.7Z" fill="#e8382f"/>
<path d="M1058.2 189.8L1060.1 191.7L1058.2 193.6L1056.3 191.7Z" fill="#e8382f"/>
<path d="M1063.1 187.5L1065.0 189.4L1063.1 191.3L1061.2 189.4Z" fill="#e8382f"/>
<path d="M1067.9 187.5L1069.8 189.4L1067.9 191.3L1066.0 189.4Z" fill="#e8382f"/>
<path d="M1072.8 185.2L1074.7 187.1L1072.8 189.0L1070.9 187.1Z" fill="#e8382f"/>
<path d="M1077.7 187.3L1079.6 189.2L1077.7 191.1L1075.8 189.2Z" fill="#e8382f"/>
<path d="M1082.6 187.5L1084.5 189.4L1082.6 191.3L1080.7 189.4Z" fill="#e8382f"/>
<path d="M1087.5 187.5L1089.4 189.4L1087.5 191.3L1085.6 189.4Z" fill="#e8382f"/>
<path d="M1092.3 185.6L1094.2 187.5L1092.3 189.4L1090.4 187.5Z" fill="#e8382f"/>
<path d="M1097.2 184.0L1099.1 185.9L1097.2 187.8L1095.3 185.9Z" fill="#e8382f"/>
<path d="M1102.1 182.0L1104.0 183.9L1102.1 185.8L1100.2 183.9Z" fill="#e8382f"/>
<path d="M1107.0 192.1L1108.9 194.0L1107.0 195.9L1105.1 194.0Z" fill="#e8382f"/>
<path d="M1111.9 189.9L1113.8 191.8L1111.9 193.7L1110.0 191.8Z" fill="#e8382f"/>
<path d="M1116.8 188.4L1118.7 190.3L1116.8 192.2L1114.8 190.3Z" fill="#e8382f"/>
<path d="M1121.6 191.9L1123.5 193.8L1121.6 195.7L1119.7 193.8Z" fill="#e8382f"/>
<path d="M1126.5 189.9L1128.4 191.8L1126.5 193.7L1124.6 191.8Z" fill="#e8382f"/>
<path d="M1131.4 189.9L1133.3 191.8L1131.4 193.7L1129.5 191.8Z" fill="#e8382f"/>
<path d="M1136.3 192.1L1138.2 194.0L1136.3 195.9L1134.4 194.0Z" fill="#e8382f"/>
<path d="M1141.2 189.9L1143.1 191.8L1141.2 193.7L1139.3 191.8Z" fill="#e8382f"/>
<path d="M1146.0 190.8L1147.9 192.7L1146.0 194.6L1144.1 192.7Z" fill="#e8382f"/>
<path d="M1150.9 190.8L1152.8 192.7L1150.9 194.6L1149.0 192.7Z" fill="#e8382f"/>
<path d="M1155.8 193.4L1157.7 195.3L1155.8 197.2L1153.9 195.3Z" fill="#e8382f"/>
<path d="M1160.7 195.4L1162.6 197.3L1160.7 199.2L1158.8 197.3Z" fill="#e8382f"/>
<path d="M1165.6 195.4L1167.5 197.3L1165.6 199.2L1163.7 197.3Z" fill="#e8382f"/>
<path d="M1170.4 187.1L1172.3 189.0L1170.4 190.9L1168.5 189.0Z" fill="#e8382f"/>
<path d="M1175.3 191.5L1177.2 193.4L1175.3 195.3L1173.4 193.4Z" fill="#e8382f"/>
<path d="M1180.2 188.4L1182.1 190.3L1180.2 192.2L1178.3 190.3Z" fill="#e8382f"/>
<path d="M1185.1 188.2L1187.0 190.1L1185.1 192.0L1183.2 190.1Z" fill="#e8382f"/>
<path d="M1190.0 186.5L1191.9 188.4L1190.0 190.3L1188.1 188.4Z" fill="#e8382f"/>
<path d="M1194.8 186.5L1196.7 188.4L1194.8 190.3L1192.9 188.4Z" fill="#e8382f"/>
<path d="M1199.7 181.6L1201.6 183.5L1199.7 185.4L1197.8 183.5Z" fill="#e8382f"/>
<path d="M1204.6 178.6L1206.5 180.5L1204.6 182.4L1202.7 180.5Z" fill="#e8382f"/>
<text x="379" y="145.0" text-anchor="end" class="ax yl">100%</text>
<text x="379" y="216.5" text-anchor="end" class="ax yl">50%</text>
<text x="379" y="288.0" text-anchor="end" class="ax yl">0%</text>
<text x="379" y="359.5" text-anchor="end" class="ax yl">−50%</text>
<text x="379" y="431.0" text-anchor="end" class="ax yl">−100%</text>
<text x="385" y="447" text-anchor="middle" class="ax">Nov 22, '20</text>
<text x="546" y="447" text-anchor="middle" class="ax">Jan 18, '21</text>
<text x="706.5" y="447" text-anchor="middle" class="ax">Mar 18, '21</text>
<text x="868" y="447" text-anchor="middle" class="ax">May 20, '21</text>
<text x="1029" y="447" text-anchor="middle" class="ax">Jul 27, '21</text>
<text x="1206.2" y="447" text-anchor="end" class="ax">Sep 27, '21</text>
<line x1="575" x2="593" y1="477.5" y2="477.5" stroke="#fbb416" stroke-width="1.2"/><circle cx="584" cy="477.5" r="1.6" fill="#fbb416"/>
<text x="599" y="481" class="lg">Equity Growth</text>
<line x1="777.5" x2="795.5" y1="477.5" y2="477.5" stroke="#e8382f" stroke-width="1.2"/><path d="M786.5 475.4L788.6 477.5L786.5 479.6L784.4 477.5Z" fill="#e8382f"/>
<text x="801.5" y="481" class="lg">Growth</text>
</svg>
</body></html>
